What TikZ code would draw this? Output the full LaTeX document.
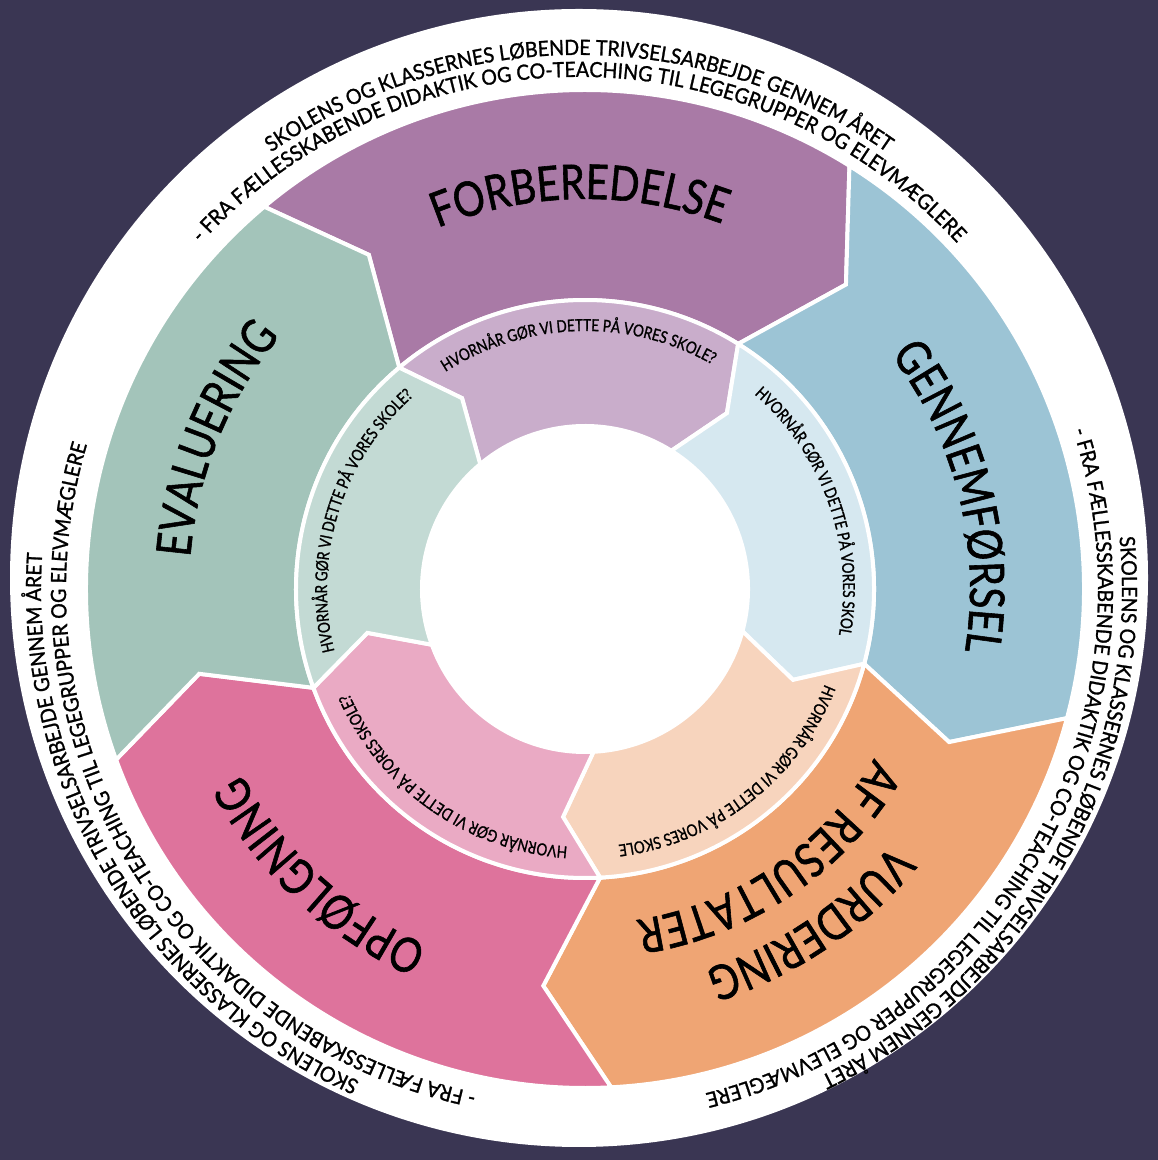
\documentclass[tikz,border=0pt]{standalone}
\usepackage{fontspec}
\setmainfont{Lato}
\newfontfamily\ringfamily{Lato}[FakeStretch=0.93, FakeBold=1.2]
\newfontfamily\phasefamily{Lato}[FakeStretch=0.82, FakeBold=1.2]
\usetikzlibrary{decorations.text}
\definecolor{night}{HTML}{3A3653}
\definecolor{plum}{HTML}{A97AA6}
\definecolor{lplum}{HTML}{C9ADCB}
\definecolor{sky}{HTML}{9CC4D5}
\definecolor{lsky}{HTML}{D6E8F0}
\definecolor{apricot}{HTML}{EFA574}
\definecolor{lapricot}{HTML}{F7D4BD}
\definecolor{rose}{HTML}{DE739C}
\definecolor{lrose}{HTML}{EAAAC4}
\definecolor{sage}{HTML}{A3C4BA}
\definecolor{lsage}{HTML}{C3DAD4}
\newcommand\ringfont{\ringfamily\fontsize{21}{21}\selectfont}
\newcommand\phasefont{\phasefamily\fontsize{48}{48}\selectfont}
\newcommand\askfont{\phasefamily\fontsize{16.5}{16.5}\selectfont}

\begin{document}
\begin{tikzpicture}[x=1pt,y=1pt,
  part/.style={draw=white, line width=4pt},
  curved/.style={decorate, decoration={text along path, text align=center, text={#1}}},
  ringline/.style={/utils/exec=\ringfont, curved={#1}},
  phaseline/.style={/utils/exec=\phasefont, curved={#1}},
  askline/.style={/utils/exec=\askfont, curved={#1}}]
\fill[night] (0,0) rectangle (1158,1160);
\useasboundingbox (0,0) rectangle (1158,1160);
\fill[white] (579,582) circle (569pt);

\begin{scope}[shift={(579,570)}]
\path[ringline={SKOLENS OG KLASSERNES LØBENDE TRIVSELSARBEJDE GENNEM ÅRET}] (165:535pt) arc[start angle=165, end angle=15, radius=535pt];
\path[ringline={- FRA FÆLLESSKABENDE DIDAKTIK OG CO-TEACHING TIL LEGEGRUPPER OG ELEVMÆGLERE}] (165:513pt) arc[start angle=165, end angle=15, radius=513pt];
\path[ringline={SKOLENS OG KLASSERNES LØBENDE TRIVSELSARBEJDE GENNEM ÅRET}] (46:543pt) arc[start angle=46, end angle=-104, radius=543pt];
\path[ringline={- FRA FÆLLESSKABENDE DIDAKTIK OG CO-TEACHING TIL LEGEGRUPPER OG ELEVMÆGLERE}] (46:519pt) arc[start angle=46, end angle=-104, radius=519pt];
\path[ringline={SKOLENS OG KLASSERNES LØBENDE TRIVSELSARBEJDE GENNEM ÅRET}] (286:538pt) arc[start angle=286, end angle=136, radius=538pt];
\path[ringline={- FRA FÆLLESSKABENDE DIDAKTIK OG CO-TEACHING TIL LEGEGRUPPER OG ELEVMÆGLERE}] (286:513pt) arc[start angle=286, end angle=136, radius=513pt];
\end{scope}

\begin{scope}[shift={(585,571)}]
\fill[plum, part] (130:499pt) arc[start angle=130, end angle=58, radius=499pt] -- (49.4:401pt) -- (58:289pt) arc[start angle=58, end angle=130, radius=289pt] -- (122.9:398pt) -- cycle;
\fill[sky, part] (58:499pt) arc[start angle=58, end angle=-15, radius=499pt] -- (-22.8:395pt) -- (-15:289pt) arc[start angle=-15, end angle=58, radius=289pt] -- (49.4:401pt) -- cycle;
\fill[apricot, part] (-15:499pt) arc[start angle=-15, end angle=-87, radius=499pt] -- (-96:399pt) -- (-87:289pt) arc[start angle=-87, end angle=-15, radius=289pt] -- (-22.8:395pt) -- cycle;
\fill[rose, part] (-87:499pt) arc[start angle=-87, end angle=-160, radius=499pt] -- (-167.6:395pt) -- (-160:289pt) arc[start angle=-160, end angle=-87, radius=289pt] -- (-96:399pt) -- cycle;
\fill[sage, part] (-160:499pt) arc[start angle=-160, end angle=-230, radius=499pt] -- (-237.1:398pt) -- (-230:289pt) arc[start angle=-230, end angle=-160, radius=289pt] -- (-167.6:395pt) -- cycle;

\fill[lplum, part] (130:289pt) arc[start angle=130, end angle=58, radius=289pt] -- (51.1:226pt) -- (58:163pt) arc[start angle=58, end angle=130, radius=163pt] -- (122.8:227pt) -- cycle;
\fill[lsky, part] (58:289pt) arc[start angle=58, end angle=-15, radius=289pt] -- (-23.6:227pt) -- (-15:163pt) arc[start angle=-15, end angle=58, radius=163pt] -- (51.1:226pt) -- cycle;
\fill[lapricot, part] (-15:289pt) arc[start angle=-15, end angle=-87, radius=289pt] -- (-95.5:229pt) -- (-87:163pt) arc[start angle=-87, end angle=-15, radius=163pt] -- (-23.6:227pt) -- cycle;
\fill[lrose, part] (-87:289pt) arc[start angle=-87, end angle=-160, radius=289pt] -- (-168.6:222pt) -- (-160:163pt) arc[start angle=-160, end angle=-87, radius=163pt] -- (-95.5:229pt) -- cycle;
\fill[lsage, part] (-160:289pt) arc[start angle=-160, end angle=-230, radius=289pt] -- (-237.2:227pt) -- (-230:163pt) arc[start angle=-230, end angle=-160, radius=163pt] -- (-168.6:222pt) -- cycle;

\path[phaseline={FORBEREDELSE}] (150.8:390pt) arc[start angle=150.8, end angle=30.8, radius=390pt];
\path[phaseline={GENNEMFØRSEL}] (74.1:385pt) arc[start angle=74.1, end angle=-45.9, radius=385pt];
\path[phaseline={VURDERING}] (3.9:399pt) arc[start angle=3.9, end angle=-116.1, radius=399pt];
\path[phaseline={AF RESULTATER}] (4.2:335pt) arc[start angle=4.2, end angle=-115.8, radius=335pt];
\path[phaseline={OPFØLGNING}] (-72.7:390pt) arc[start angle=-72.7, end angle=-192.7, radius=390pt];
\path[phaseline={EVALUERING}] (217.9:396pt) arc[start angle=217.9, end angle=97.9, radius=396pt];

\path[askline={HVORNÅR GØR VI DETTE PÅ VORES SKOLE?}] (151.6:258pt) arc[start angle=151.6, end angle=31.6, radius=258pt];
\path[askline={HVORNÅR GØR VI DETTE PÅ VORES SKOL}] (79.4:258pt) arc[start angle=79.4, end angle=-40.6, radius=258pt];
\path[askline={HVORNÅR GØR VI DETTE PÅ VORES SKOLE}] (7.9:258pt) arc[start angle=7.9, end angle=-112.1, radius=258pt];
\path[askline={HVORNÅR GØR VI DETTE PÅ VORES SKOLE?}] (-65:258pt) arc[start angle=-65, end angle=-185, radius=258pt];
\path[askline={HVORNÅR GØR VI DETTE PÅ VORES SKOLE?}] (222.8:258pt) arc[start angle=222.8, end angle=102.8, radius=258pt];
\end{scope}
\end{tikzpicture}
\end{document}
